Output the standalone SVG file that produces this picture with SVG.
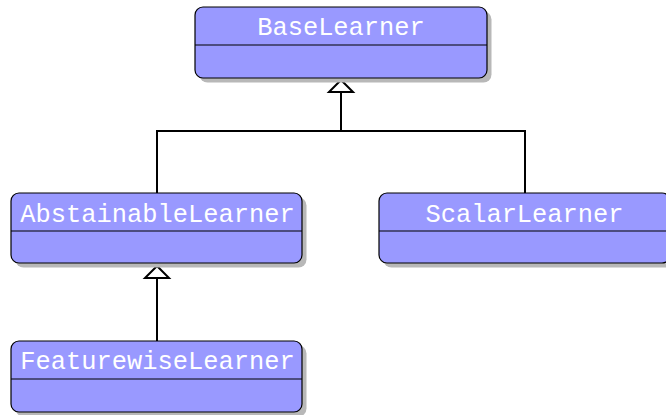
<svg xmlns="http://www.w3.org/2000/svg" width="666" height="415" viewBox="0 0 666 415">
<defs>
<style>
.shadow{fill:#b8b8b8;}
.box{fill:#9999ff;stroke:#000;stroke-width:1.2;}
.div{stroke:#000;stroke-width:1.2;}
.t{font-family:"Liberation Mono","DejaVu Sans Mono",monospace;font-size:25.4px;fill:#fff;text-anchor:middle;}
.c{fill:none;stroke:#000;stroke-width:2;}
.h{fill:#fff;stroke:#000;stroke-width:2;stroke-linejoin:miter;}
</style>
</defs>
<rect width="666" height="415" fill="#fff"/>
<g id="connectors">
<polyline class="c" points="157,193 157,131 525,131 525,193"/>
<line class="c" x1="341" y1="131" x2="341" y2="92"/>
<polygon class="h" points="341,80 329,92 353,92"/>
<line class="c" x1="157" y1="341" x2="157" y2="278"/>
<polygon class="h" points="157,266 145,278 169,278"/>
</g>
<g id="BaseLearner">
<rect class="shadow" x="199.5" y="11.5" width="292" height="71" rx="8"/>
<rect class="box" x="195" y="7" width="292" height="71" rx="8"/>
<line class="div" x1="195" y1="45" x2="487" y2="45"/>
<text class="t" x="341" y="35">BaseLearner</text>
</g>
<g id="AbstainableLearner">
<rect class="shadow" x="15.5" y="197.5" width="291" height="70" rx="8"/>
<rect class="box" x="11" y="193" width="291" height="70" rx="8"/>
<line class="div" x1="11" y1="231" x2="302" y2="231"/>
<text class="t" x="157.5" y="221.5">AbstainableLearner</text>
</g>
<g id="ScalarLearner">
<rect class="shadow" x="383.5" y="197.5" width="291" height="70" rx="8"/>
<rect class="box" x="379" y="193" width="291" height="70" rx="8"/>
<line class="div" x1="379" y1="231" x2="670" y2="231"/>
<text class="t" x="524.5" y="221.5">ScalarLearner</text>
</g>
<g id="FeaturewiseLearner">
<rect class="shadow" x="15.5" y="345.5" width="291" height="71" rx="8"/>
<rect class="box" x="11" y="341" width="291" height="71" rx="8"/>
<line class="div" x1="11" y1="379" x2="302" y2="379"/>
<text class="t" x="157.5" y="369">FeaturewiseLearner</text>
</g>
</svg>
